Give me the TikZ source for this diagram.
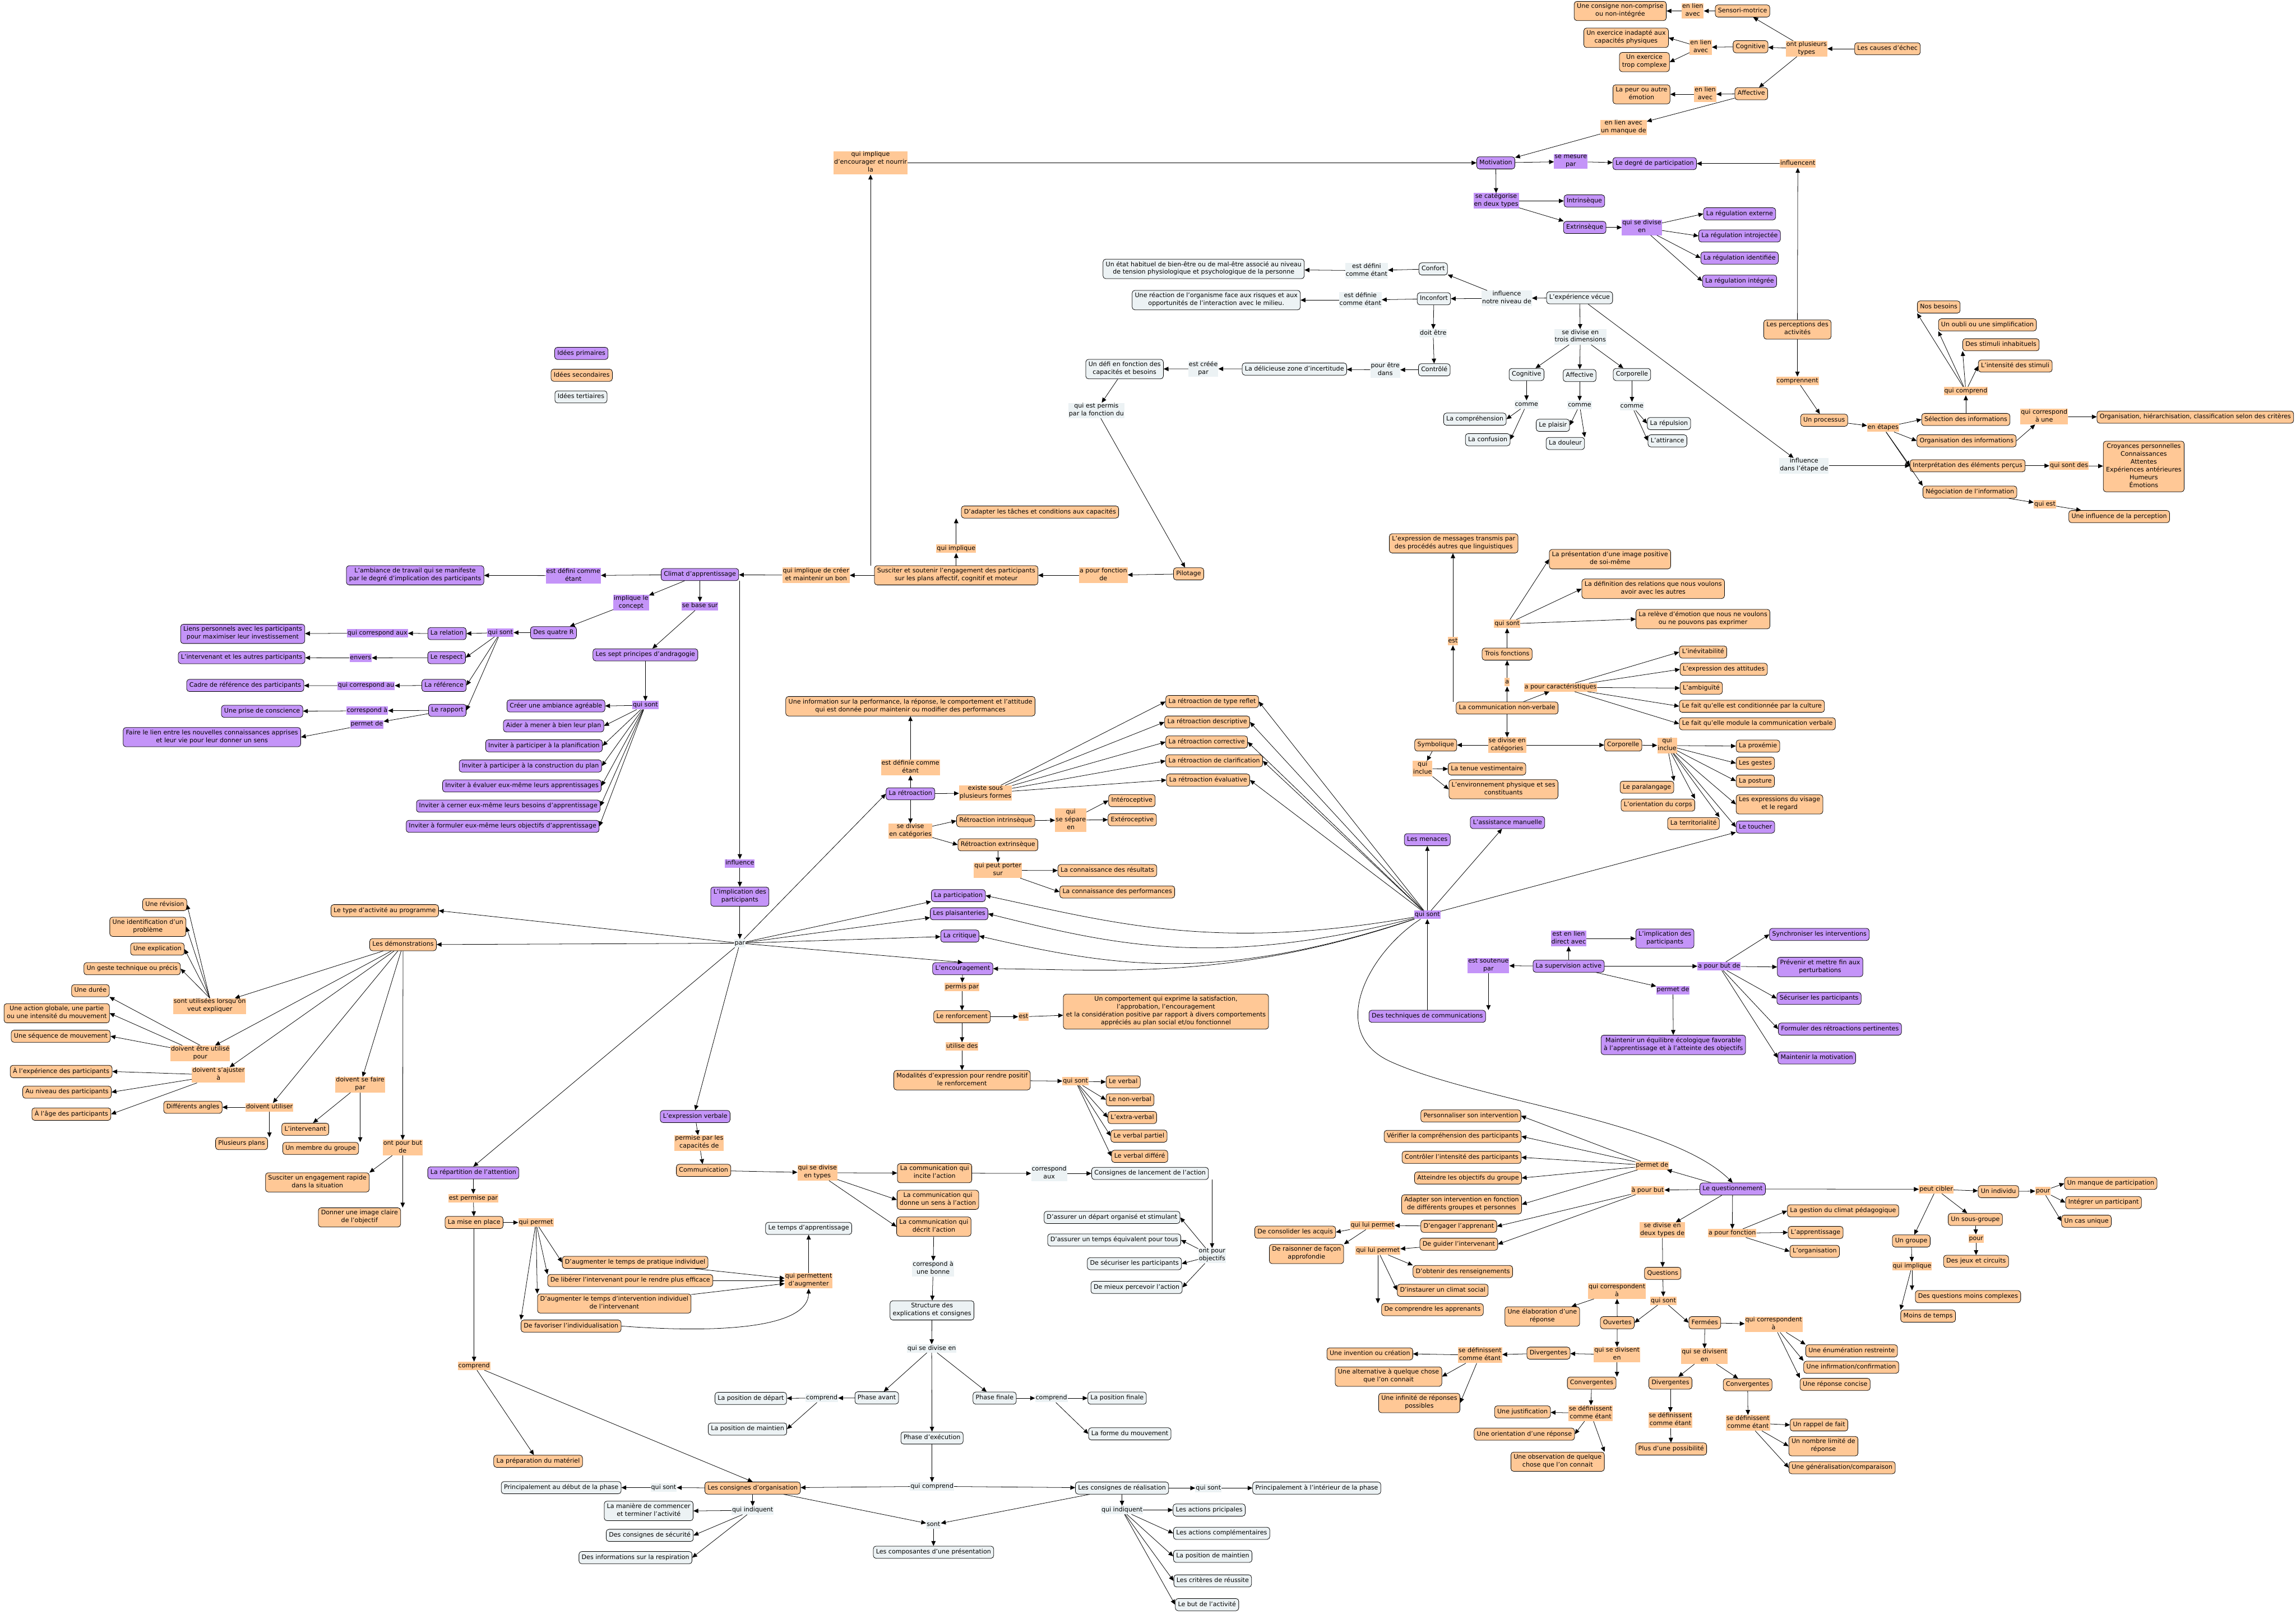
\documentclass[tikz,border=0pt]{standalone}
\usepackage{fontspec}
\setmainfont{DejaVu Sans}
\usetikzlibrary{arrows.meta}
\definecolor{cprim}{RGB}{196,148,248}
\definecolor{csec}{RGB}{255,200,150}
\definecolor{cter}{RGB}{236,242,244}
\newcommand{\mf}{\fontsize{11.5pt}{14.5pt}\selectfont}
\tikzset{
 box/.style={draw=black, line width=0.8pt, rounded corners=5pt, inner xsep=5pt, inner ysep=4pt, align=center, font=\mf, execute at begin node=\strut, execute at end node=\strut},
 prim/.style={box, fill=cprim},
 sec/.style={box, fill=csec},
 ter/.style={box, fill=cter},
 lab/.style={inner xsep=1pt, inner ysep=0.5pt, align=center, font=\mf, execute at begin node=\strut, execute at end node=\strut},
 lprim/.style={lab, fill=cprim},
 lsec/.style={lab, fill=csec},
 lter/.style={lab, fill=cter},
 ar/.style={draw, line width=0.8pt, -{Triangle[length=9pt,width=8pt]}},
}
\begin{document}
\begin{tikzpicture}[x=2.7066pt, y=-2.7069pt]
\useasboundingbox[fill=white] (0,0) rectangle (1568,1102);

% ---------- causes d'echec ----------
\node[sec] (cons) at (1106.5,7.5) {Une consigne non-comprise\\ou non-intégrée};
\node[lsec] (l_cons) at (1156,7.5) {en lien\\avec};
\node[sec] (senso) at (1190,7.5) {Sensori-motrice};
\node[sec] (exinad) at (1110.5,25.8) {Un exercice inadapté aux\\capacités physiques};
\node[lsec] (l_cog) at (1161.5,32.3) {en lien\\avec};
\node[sec] (excomp) at (1123,42.4) {Un exercice\\trop complexe};
\node[sec] (cogc) at (1195.5,31.9) {Cognitive};
\node[lsec] (l_types) at (1233.75,33.3) {ont plusieurs\\types};
\node[sec] (causes) at (1289,33.3) {Les causes d'échec};
\node[sec] (peur) at (1121,64.4) {La peur ou autre\\émotion};
\node[lsec] (l_aff) at (1164.5,64.4) {en lien\\avec};
\node[sec] (affc) at (1196,64) {Affective};
\node[lsec] (l_manque) at (1108.75,87.1) {en lien avec\\un manque de};

% ---------- motivation ----------
\node[prim] (motiv) at (1021.5,111.2) {Motivation};
\node[lprim] (l_mes) at (1072.75,110.3) {se mesure\\par};
\node[prim] (degre) at (1130,111.7) {Le degré de participation};
\node[lsec] (l_infl) at (1227.75,111.7) {influencent};
\node[lprim] (l_cat) at (1021.75,137.2) {se catégorise\\en deux types};
\node[prim] (intr) at (1082,137.2) {Intrinsèque};
\node[prim] (extr) at (1082.25,155.3) {Extrinsèque};
\node[lprim] (l_extr) at (1121.25,155.3) {qui se divise\\en};
\node[prim] (reg1) at (1188,146) {La régulation externe};
\node[prim] (reg2) at (1188,161.1) {La régulation introjectée};
\node[prim] (reg3) at (1188,176.2) {La régulation identifiée};
\node[prim] (reg4) at (1188,192) {La régulation intégrée};
\node[lsec] (l_encour) at (594.5,111.2) {qui implique\\d'encourager et nourrir\\la};

% ---------- experience vecue ----------
\node[ter] (etat) at (822,183.6) {Un état habituel de bien-être ou de mal-être associé au niveau\\de tension physiologique et psychologique de la personne};
\node[lter] (l_conf) at (933.25,184.8) {est défini\\comme étant};
\node[ter] (confort) at (978.75,183.6) {Confort};
\node[ter] (reac) at (830.6,204.9) {Une réaction de l’organisme face aux risques et aux\\opportunités de l’interaction avec le milieu.};
\node[lter] (l_inc) at (929,204.9) {est définie\\comme étant};
\node[ter] (inconf) at (979.25,204) {Inconfort};
\node[lter] (l_niv) at (1029,203.7) {influence\\notre niveau de};
\node[ter] (expv) at (1078.75,203.3) {L'expérience vécue};
\node[lter] (l_doit) at (978.75,227.6) {doit être};
\node[ter] (ctrl) at (979.5,252.5) {Contrôlé};
\node[lter] (l_pour) at (946,252.5) {pour être\\dans};
\node[ter] (zone) at (884,252) {La délicieuse zone d'incertitude};
\node[lter] (l_cree) at (821.75,251.8) {est créée\\par};
\node[ter] (defi) at (768,252) {Un défi en fonction des\\capacités et besoins};
\node[lter] (l_permis) at (748.75,280.3) {qui est permis\\par la fonction du};
\node[lter] (l_3d) at (1079.25,230) {se divise en\\trois dimensions};
\node[ter] (cogt) at (1042.5,255.7) {Cognitive};
\node[ter] (afft) at (1078.75,256.4) {Affective};
\node[ter] (cort) at (1114.5,255.7) {Corporelle};
\node[lter] (l_c1) at (1042.5,276.3) {comme};
\node[lter] (l_c2) at (1078.75,276.6) {comme};
\node[lter] (l_c3) at (1114.5,277.3) {comme};
\node[ter] (compr) at (1007.25,286.2) {La compréhension};
\node[ter] (confu) at (1016,300.2) {La confusion};
\node[ter] (plais) at (1060.5,290.4) {Le plaisir};
\node[ter] (doul) at (1069,302.8) {La douleur};
\node[ter] (repul) at (1139.75,289.2) {La répulsion};
\node[ter] (attir) at (1138.75,301) {L'attirance};

% ---------- perceptions ----------
\node[sec] (perc) at (1227.5,225) {Les perceptions des\\activités};
\node[lsec] (l_compren) at (1227.5,260) {comprennent};
\node[sec] (proc) at (1245.75,286.9) {Un processus};
\node[lsec] (l_etapes) at (1286,292) {en étapes};
\node[sec] (sel) at (1342.5,286.4) {Sélection des informations};
\node[sec] (orga) at (1343,301) {Organisation des informations};
\node[sec] (interp) at (1343.75,318) {Interprétation des éléments perçus};
\node[sec] (nego) at (1345.25,336) {Négociation de l’information};
\node[lsec] (l_qc) at (1342.5,267) {qui comprend};
\node[sec] (besoins) at (1324,209.6) {Nos besoins};
\node[sec] (oubli) at (1357.25,221.8) {Un oubli ou une simplification};
\node[sec] (stim) at (1366.5,235.4) {Des stimuli inhabituels};
\node[sec] (intens) at (1376.25,249.9) {L'intensité des stimuli};
\node[lsec] (l_qcu) at (1396,284.5) {qui correspond\\à une};
\node[sec, anchor=east] (hier) at (1566.5,284.8) {Organisation, hiérarchisation, classification selon des critères};
\node[lsec] (l_qsd) at (1413,318) {qui sont des};
\node[sec] (croy) at (1464,318.5) {Croyances personnelles\\Connaissances\\Attentes\\Expériences antérieures\\Humeurs\\Émotions};
\node[lsec] (l_qe) at (1396.5,344.3) {qui est};
\node[sec] (infper) at (1447.25,352.7) {Une influence de la perception};
\node[lter] (l_etape) at (1232,318) {influence\\dans l'étape de};

% ---------- legend ----------
\node[prim] (leg1) at (397,241.3) {Idées primaires};
\node[sec] (leg2) at (397.25,256.2) {Idées secondaires};
\node[ter] (leg3) at (396.75,271) {Idées tertiaires};

% ---------- climat ----------
\node[prim] (amb) at (283.5,392.8) {L'ambiance de travail qui se manifeste\\par le degré d'implication des participants};
\node[lprim] (l_amb) at (391.5,393) {est défini comme\\étant};
\node[prim] (climat) at (478,392.3) {Climat d'apprentissage};
\node[lsec] (l_creer) at (557.25,392.8) {qui implique de créer\\et maintenir un bon};
\node[sec] (susc) at (653,392.8) {Susciter et soutenir l’engagement des participants\\sur les plans affectif, cognitif et moteur};
\node[lsec] (l_impl) at (653,374.7) {qui implique};
\node[sec] (adapt) at (710.25,349.6) {D'adapter les tâches et conditions aux capacités};
\node[lsec] (l_fonc) at (753.5,392.8) {a pour fonction\\de};
\node[sec] (pilot) at (811.75,391.8) {Pilotage};
\node[lprim] (l_concept) at (431,411.5) {implique le\\concept};
\node[lprim] (l_base) at (478,413.8) {se base sur};
\node[prim] (quatreR) at (378,432) {Des quatre R};
\node[lprim] (l_qs4) at (341.75,431.9) {qui sont};
\node[prim] (relation) at (305.25,432.6) {La relation};
\node[lprim] (l_rel) at (257.75,432.3) {qui correspond aux};
\node[prim] (liens) at (165.75,432.8) {Liens personnels avec les participants\\pour maximiser leur investissement};
\node[prim] (respect) at (305,449) {Le respect};
\node[lprim] (l_env) at (246.25,449.2) {envers};
\node[prim] (interv) at (165,449) {L'intervenant et les autres participants};
\node[prim] (refer) at (303.25,468) {La référence};
\node[lprim] (l_ref) at (250,468.2) {qui correspond au};
\node[prim] (cadre) at (167.5,468) {Cadre de référence des participants};
\node[prim] (rapport) at (305.5,485) {Le rapport};
\node[lprim] (l_corr) at (250.75,485.3) {correspond à};
\node[prim] (prise) at (179,485.7) {Une prise de conscience};
\node[lprim] (l_permet) at (250.5,494.6) {permet de};
\node[prim] (faire) at (144.75,503.3) {Faire le lien entre les nouvelles connaissances apprises\\et leur vie pour leur donner un sens};
\node[prim] (sept) at (440.75,447.1) {Les sept principes d'andragogie};
\node[lprim] (l_qs7) at (440.75,481.5) {qui sont};
\node[prim, anchor=east] (p1) at (413.25,482) {Créer une ambiance agréable};
\node[prim, anchor=east] (p2) at (412.5,495.6) {Aider à mener à bien leur plan};
\node[prim, anchor=east] (p3) at (411.5,509.2) {Inviter à participer à la planification};
\node[prim, anchor=east] (p4) at (411,523) {Inviter à participer à la construction du plan};
\node[prim, anchor=east] (p5) at (410.75,536.6) {Inviter à évaluer eux-même leurs apprentissages};
\node[prim, anchor=east] (p6) at (410,550.4) {Inviter à cerner eux-même leurs besoins d'apprentissage};
\node[prim, anchor=east] (p7) at (409.25,564.2) {Inviter à formuler eux-même leurs objectifs d'apprentissage};
\node[lprim] (l_influ) at (505.25,589.5) {influence};
\node[prim] (impl1) at (505.25,612.2) {L'implication des\\participants};
\node[lter] (par) at (505.25,644) {par};

% ---------- retroaction ----------
\node[sec] (info) at (621.75,482.2) {Une information sur la performance, la réponse, le comportement et l’attitude\\qui est donnée pour maintenir ou modifier des performances};
\node[lsec] (l_def) at (621.75,524) {est définie comme\\étant};
\node[prim] (retro) at (621.75,542) {La rétroaction};
\node[lsec] (l_formes) at (673,541.5) {existe sous\\plusieurs formes};
\node[lsec] (l_catr) at (621.75,567.5) {se divise\\en catégories};
\node[sec] (rintr) at (680,560.4) {Rétroaction intrinsèque};
\node[lsec] (l_sep) at (731.25,560) {qui\\se sépare\\en};
\node[sec] (intero) at (773,546.6) {Intéroceptive};
\node[sec] (extero) at (773.25,559.7) {Extéroceptive};
\node[sec] (rextr) at (681.5,576.8) {Rétroaction extrinsèque};
\node[lsec] (l_porter) at (681.5,594.2) {qui peut porter\\sur};
\node[sec] (cres) at (756.25,594.4) {La connaissance des résultats};
\node[sec] (cperf) at (763,609) {La connaissance des performances};
\node[prim] (partic) at (654.5,611.5) {La participation};
\node[prim] (plaisant) at (655,623.9) {Les plaisanteries};
\node[prim] (critique) at (655.5,639.1) {La critique};
\node[prim] (encour) at (657.5,661.4) {L'encouragement};
\node[lsec] (l_pp) at (657,673.8) {permis par};
\node[sec] (renf) at (657,694.2) {Le renforcement};
\node[lsec] (l_est) at (699,694.2) {est};
\node[sec] (compor) at (796.25,690.7) {Un comportement qui exprime la satisfaction,\\l’approbation, l’encouragement\\et la considération positive par rapport à divers comportements\\appréciés au plan social et/ou fonctionnel};
\node[lsec] (l_util) at (657,714.5) {utilise des};
\node[sec] (modal) at (657,737.5) {Modalités d'expression pour rendre positif\\le renforcement};
\node[lsec] (l_qsm) at (734.5,738.2) {qui sont};
\node[sec, anchor=west] (verb1) at (755.25,738.7) {Le verbal};
\node[sec, anchor=west] (verb2) at (755.25,750.9) {Le non-verbal};
\node[sec, anchor=west] (verb3) at (756.5,763) {L'extra-verbal};
\node[sec, anchor=west] (verb4) at (758.5,775.7) {Le verbal partiel};
\node[sec, anchor=west] (verb5) at (759,789.5) {Le verbal différé};
\node[sec, anchor=west] (rt1) at (796,479) {La rétroaction de type reflet};
\node[sec, anchor=west] (rt2) at (795.25,493) {La rétroaction descriptive};
\node[sec, anchor=west] (rt3) at (796,506.6) {La rétroaction corrective};
\node[sec, anchor=west] (rt4) at (796,519.5) {La rétroaction de clarification};
\node[sec, anchor=west] (rt5) at (796.5,532.6) {La rétroaction évaluative};

% ---------- communication non-verbale ----------
\node[sec] (expr) at (992.75,371) {L’expression de messages transmis par\\des procédés autres que linguistiques};
\node[sec] (image) at (1099.5,381.8) {La présentation d'une image positive\\de soi-même};
\node[sec] (defrel) at (1129,402) {La définition des relations que nous voulons\\avoir avec les autres};
\node[sec] (releve) at (1163,422.7) {La relève d'émotion que nous ne voulons\\ou ne pouvons pas exprimer};
\node[lsec] (l_qs3) at (1029.25,426) {qui sont};
\node[lsec] (l_est2) at (992.25,437.7) {est};
\node[sec] (trois) at (1029.25,446.6) {Trois fonctions};
\node[lsec] (l_a) at (1029.25,465.8) {a};
\node[lsec] (l_carac) at (1065.75,469.3) {a pour caractéristiques};
\node[sec] (cnv) at (1029.25,483.4) {La communication non-verbale};
\node[sec, anchor=west] (car1) at (1146.75,445.2) {L'inévitabilité};
\node[sec, anchor=west] (car2) at (1147.25,457) {L'expression des attitudes};
\node[sec, anchor=west] (car3) at (1147.25,469.8) {L'ambiguïté};
\node[sec, anchor=west] (car4) at (1146.75,482.2) {Le fait qu'elle est conditionnée par la culture};
\node[sec, anchor=west] (car5) at (1146.75,494.2) {Le fait qu'elle module la communication verbale};
\node[lsec] (l_catc) at (1029.25,508.7) {se divise en\\catégories};
\node[sec] (symb) at (980.5,508.7) {Symbolique};
\node[lsec] (l_inc1) at (971.5,524.8) {qui\\inclue};
\node[sec] (tenue) at (1015.5,525) {La tenue vestimentaire};
\node[sec] (envir) at (1026.75,538.9) {L'environnement physique et ses\\constituants};
\node[sec] (corpo) at (1108.5,508.7) {Corporelle};
\node[lsec] (l_inc2) at (1138.5,509) {qui\\inclue};
\node[sec, anchor=west] (prox) at (1185.5,509.4) {La proxémie};
\node[sec, anchor=west] (gestes) at (1185.5,521.1) {Les gestes};
\node[sec, anchor=west] (posture) at (1185.5,533.3) {La posture};
\node[sec, anchor=west] (visage) at (1185.5,549.2) {Les expressions du visage\\et le regard};
\node[prim, anchor=west] (toucher) at (1185.5,564.7) {Le toucher};
\node[sec] (paral) at (1124.75,537.5) {Le paralangage};
\node[sec] (orient) at (1132.25,549.7) {L'orientation du corps};
\node[sec] (territ) at (1156.5,562.3) {La territorialité};
\node[prim] (assist) at (1029.5,561.6) {L'assistance manuelle};
\node[prim] (menaces) at (974.75,573.3) {Les menaces};
\node[lprim] (qs) at (974.75,624.6) {qui sont};
\node[prim] (tech) at (974.75,693.9) {Des techniques de communications};
\node[lprim] (l_sout) at (1016.5,659.3) {est soutenue\\par};
\node[prim] (superv) at (1071.25,659.7) {La supervision active};
\node[lprim] (l_direct) at (1071.25,640.8) {est en lien\\direct avec};
\node[prim] (impl2) at (1137,640.8) {L'implication des\\participants};
\node[lprim] (l_but) at (1174,659.7) {a pour but de};
\node[lprim] (l_perm2) at (1142.5,676) {permet de};
\node[prim] (equil) at (1142.75,713.4) {Maintenir un équilibre écologique favorable\\à l’apprentissage et à l’atteinte des objectifs};
\node[prim] (sync) at (1242.5,638) {Synchroniser les interventions};
\node[prim] (prev) at (1243,660.2) {Prévenir et mettre fin aux\\perturbations};
\node[prim] (secu) at (1242.25,681.7) {Sécuriser les participants};
\node[prim] (formu) at (1256.5,702.6) {Formuler des rétroactions pertinentes};
\node[prim] (maint) at (1240.75,722.3) {Maintenir la motivation};

% ---------- demonstrations ----------
\node[sec] (revis) at (112.5,617.6) {Une révision};
\node[sec] (ident) at (101,632.8) {Une identification d'un\\problème};
\node[sec] (expl) at (107.5,648) {Une explication};
\node[sec] (geste) at (90.25,661.4) {Un geste technique ou précis};
\node[sec] (duree) at (61.75,676.4) {Une durée};
\node[sec] (action) at (38.75,691.8) {Une action globale, une partie\\ou une intensité du mouvement};
\node[sec] (seq) at (41.5,707.5) {Une séquence de mouvement};
\node[sec] (exper) at (41.75,731.6) {À l'expérience des participants};
\node[lsec] (l_expliq) at (143.25,686.9) {sont utilisées lorsqu'on\\veut expliquer};
\node[lsec] (l_utilpour) at (136.75,719.2) {doivent être utilisé\\pour};
\node[lsec] (l_ajust) at (149.25,734) {doivent s'ajuster\\à};
\node[sec] (niveau) at (45.75,745.7) {Au niveau des participants};
\node[sec] (age) at (48.75,760.7) {À l'âge des participants};
\node[sec] (angles) at (131.75,756) {Différents angles};
\node[lsec] (l_dutil) at (184,756) {doivent utiliser};
\node[sec] (plans) at (165,780.8) {Plusieurs plans};
\node[lsec] (l_faire) at (246,740.6) {doivent se faire\\par};
\node[sec] (lint) at (208.5,771) {L’intervenant};
\node[sec] (membre) at (219,784.1) {Un membre du groupe};
\node[lsec] (l_butd) at (275,783.6) {ont pour but\\de};
\node[sec] (engag) at (216.75,807.3) {Susciter un engagement rapide\\dans la situation};
\node[sec] (donner) at (245.5,831.2) {Donner une image claire\\de l'objectif};
\node[sec] (typeact) at (262.75,621.8) {Le type d'activité au programme};
\node[sec] (demo) at (275.25,645) {Les démonstrations};

% ---------- repartition ----------
\node[prim] (repart) at (323.25,800.8) {La répartition de l'attention};
\node[lsec] (l_permise) at (323.25,818.1) {est permise par};
\node[sec] (mise) at (323.75,834.7) {La mise en place};
\node[lsec] (l_qp) at (366,834.7) {qui permet};
\node[lsec] (l_compr) at (323.75,932.6) {comprend};
\node[sec] (prep) at (367.5,997.7) {La préparation du matériel};
\node[ter] (debut) at (383.25,1015.7) {Principalement au début de la phase};
\node[sec] (aug1) at (433.75,861.9) {D'augmenter le temps de pratique individuel};
\node[sec] (liber) at (430.4,874.3) {De libérer l’intervenant pour le rendre plus efficace};
\node[sec] (aug2) at (419.5,890) {D'augmenter le temps d’intervention individuel\\de l’intervenant};
\node[sec] (favor) at (390,905.4) {De favoriser l'individualisation};
\node[ter] (tempsapp) at (552.25,838.7) {Le temps d'apprentissage};
\node[lsec] (l_qpa) at (552.25,874.5) {qui permettent\\d'augmenter};

% ---------- communication ----------
\node[prim] (exprv) at (474.75,762.3) {L'expression verbale};
\node[lsec] (l_capac) at (477.5,780.4) {permise par les\\capacités de};
\node[sec] (comm) at (480.5,799.1) {Communication};
\node[lsec] (l_types2) at (558.25,800.7) {qui se divise\\en types};
\node[sec] (incite) at (638.25,801) {La communication qui\\incite l'action};
\node[sec] (sens) at (640.5,819.2) {La communication qui\\donne un sens à l'action};
\node[sec] (decrit) at (637.75,837.5) {La communication qui\\décrit l'action};
\node[lter] (l_aux) at (716.5,801.2) {correspond\\aux};
\node[ter] (lanc) at (785.4,801.2) {Consignes de lancement de l'action};
\node[lter] (l_obj) at (827.75,857.4) {ont pour\\objectifs};
\node[ter, anchor=east] (obj1) at (806,831.2) {D'assurer un départ organisé et stimulant};
\node[ter, anchor=east] (obj2) at (806.5,846.6) {D'assurer un temps équivalent pour tous};
\node[ter, anchor=east] (obj3) at (807,862.8) {De sécuriser les participants};
\node[ter, anchor=east] (obj4) at (807.5,879) {De mieux percevoir l'action};
\node[lter] (l_bonne) at (637.25,866.3) {correspond à\\une bonne};
\node[ter] (struct) at (636.5,894.7) {Structure des\\explications et consignes};
\node[lter] (l_qsde) at (636.25,920.7) {qui se divise en};
\node[ter] (pavant) at (598.75,954.4) {Phase avant};
\node[lter] (l_comp1) at (561.25,954.6) {comprend};
\node[ter] (pdep) at (512.75,954.8) {La position de départ};
\node[ter] (pmain1) at (510.5,975.7) {La position de maintien};
\node[ter] (pfin) at (679.25,954.6) {Phase finale};
\node[lter] (l_comp2) at (718,954.6) {comprend};
\node[ter, anchor=west] (posfin) at (742.75,954.6) {La position finale};
\node[ter, anchor=west] (forme) at (743.25,979) {La forme du mouvement};
\node[ter] (pexec) at (636.5,981.8) {Phase d'exécution};
\node[lter] (l_qcomp) at (636.5,1014.8) {qui comprend};
\node[sec] (corg) at (514,1016) {Les consignes d'organisation};
\node[lter] (l_qsorg) at (453.25,1015.7) {qui sont};
\node[lter] (l_qi1) at (514,1031.2) {qui indiquent};
\node[ter] (maniere) at (443,1031.6) {La manière de commencer\\et terminer l'activité};
\node[ter] (securite) at (443.75,1048.3) {Des consignes de sécurité};
\node[ter] (respir) at (434,1063.5) {Des informations sur la respiration};
\node[lter] (l_sont) at (637.5,1041) {sont};
\node[ter] (compos) at (637.5,1059.8) {Les composantes d'une présentation};
\node[ter] (creal) at (766.25,1016) {Les consignes de réalisation};
\node[lter] (l_qi2) at (766.25,1031) {qui indiquent};
\node[lter] (l_qsr) at (825.25,1016) {qui sont};
\node[ter] (interieur) at (899.25,1016) {Principalement à l'intérieur de la phase};
\node[ter, anchor=west] (act1) at (801,1031) {Les actions pricipales};
\node[ter, anchor=west] (act2) at (801.25,1046.9) {Les actions complémentaires};
\node[ter, anchor=west] (act3) at (801.25,1062.6) {La position de maintien};
\node[ter, anchor=west] (act4) at (801.5,1079.4) {Les critères de réussite};
\node[ter, anchor=west] (act5) at (802.5,1095.6) {Le but de l'activité};

% ---------- questionnement ----------
\node[sec, anchor=east] (pers) at (1038.75,761.9) {Personnaliser son intervention};
\node[sec, anchor=east] (verif) at (1039,775.9) {Vérifier la compréhension des participants};
\node[sec, anchor=east] (ctrli) at (1039,790.2) {Contrôler l'intensité des participants};
\node[sec, anchor=east] (atteind) at (1039.25,804.3) {Atteindre les objectifs du groupe};
\node[sec, anchor=east] (adapti) at (1039.25,822.3) {Adapter son intervention en fonction\\de différents groupes et personnes};
\node[sec] (engap) at (996.25,837.3) {D'engager l'apprenant};
\node[sec] (guide) at (996.25,849.5) {De guider l'intervenant};
\node[lsec] (l_perm3) at (1128.25,795.8) {permet de};
\node[lsec] (l_abut) at (1125.25,812.7) {à pour but};
\node[prim] (quest) at (1183.25,811.8) {Le questionnement};
\node[lsec] (l_qlp1) at (937.25,836.6) {qui lui permet};
\node[sec] (consol) at (884.5,841.3) {De consolider les acquis};
\node[sec] (raison) at (892.25,856.2) {De raisonner de façon\\approfondie};
\node[lsec] (l_qlp2) at (941,853.9) {qui lui permet};
\node[sec] (obten) at (999,868.2) {D'obtenir des renseignements};
\node[sec] (instau) at (985.25,881) {D'instaurer un climat social};
\node[sec] (comprapp) at (978.25,894.2) {De comprendre les apprenants};
\node[lsec] (l_2types) at (1135.25,839.9) {se divise en\\deux types de};
\node[lsec] (l_afonc) at (1183,842) {a pour fonction};
\node[sec] (questions) at (1135.5,869.4) {Questions};
\node[lsec] (l_qsq) at (1136,888.1) {qui sont};
\node[lsec] (l_qca1) at (1104.25,881.5) {qui correspondent\\à};
\node[sec] (elab) at (1053.25,898.9) {Une élaboration d'une\\réponse};
\node[sec] (ouv) at (1104.5,903.1) {Ouvertes};
\node[sec] (ferm) at (1164.25,903.1) {Fermées};
\node[lsec] (l_qsde1) at (1104.25,924.9) {qui se divisent\\en};
\node[sec] (div1) at (1057.5,923.9) {Divergentes};
\node[lsec] (l_sdce1) at (1010.75,925.3) {se définissent\\comme étant};
\node[sec] (invent) at (935.5,924.4) {Une invention ou création};
\node[sec] (altern) at (948.25,939.9) {Une alternative à quelque chose\\que l'on connait};
\node[sec] (infini) at (969.25,957.9) {Une infinité de réponses\\possibles};
\node[sec] (conv1) at (1087,944.3) {Convergentes};
\node[lsec] (l_sdce2) at (1086.25,964.9) {se définissent\\comme étant};
\node[sec] (justif) at (1039.75,964) {Une justification};
\node[sec] (orientr) at (1041,979.2) {Une orientation d'une réponse};
\node[sec] (observ) at (1063.75,998) {Une observation de quelque\\chose que l'on connait};
\node[lsec] (l_qsde2) at (1164,926) {qui se divisent\\en};
\node[sec] (div2) at (1140.75,944.3) {Divergentes};
\node[lsec] (l_sdce3) at (1140.75,969.6) {se définissent\\comme étant};
\node[sec] (plusposs) at (1141.25,989.3) {Plus d'une possibilité};
\node[sec] (conv2) at (1193.5,945.5) {Convergentes};
\node[lsec] (l_qca2) at (1211.25,904.3) {qui correspondent\\à};
\node[sec] (enum) at (1264.5,922.3) {Une énumération restreinte};
\node[sec] (infirm) at (1264.25,933.5) {Une infirmation/confirmation};
\node[sec] (concise) at (1253.25,945.2) {Une réponse concise};
\node[lsec] (l_sdce4) at (1193.75,971.5) {se définissent\\comme étant};
\node[sec] (rappel) at (1242.25,972.9) {Un rappel de fait};
\node[sec] (nombre) at (1245.25,987.4) {Un nombre limité de\\réponse};
\node[sec] (general) at (1258,1002.1) {Une généralisation/comparaison};
\node[sec, anchor=west] (gestion) at (1220.5,826.7) {La gestion du climat pédagogique};
\node[sec, anchor=west] (apprent) at (1221,841.5) {L'apprentissage};
\node[sec, anchor=west] (organis) at (1222.25,854.4) {L'organisation};
\node[lsec] (l_cibler) at (1322.25,812) {peut cibler};
\node[sec] (indiv) at (1364.75,813.6) {Un individu};
\node[lsec] (l_pour1) at (1395.25,813.2) {pour};
\node[sec, anchor=west] (manque) at (1409.75,808) {Un manque de participation};
\node[sec, anchor=west] (integ) at (1410.5,821.1) {Intégrer un participant};
\node[sec, anchor=west] (casu) at (1407.75,833.8) {Un cas unique};
\node[sec] (sousg) at (1349,832.6) {Un sous-groupe};
\node[lsec] (l_pour2) at (1349.5,845.7) {pour};
\node[sec] (jeux) at (1349.5,861.2) {Des jeux et circuits};
\node[sec] (groupe) at (1305.25,847.3) {Un groupe};
\node[lsec] (l_qig) at (1305.75,864.4) {qui implique};
\node[sec] (moinsc) at (1344,885.3) {Des questions moins complexes};
\node[sec] (moinst) at (1316.75,898.6) {Moins de temps};

% =============== CONNECTORS ===============
% causes
\draw[ar] (causes) -- (l_types);
\foreach \t in {senso,cogc,affc} \draw[ar] (l_types) -- (\t);
\draw[ar] (senso) -- (l_cons); \draw[ar] (l_cons) -- (cons);
\draw[ar] (cogc) -- (l_cog); \draw[ar] (l_cog) -- (exinad.east); \draw[ar] (l_cog) -- (excomp.east);
\draw[ar] (affc) -- (l_aff); \draw[ar] (l_aff) -- (peur);
\draw[ar] (affc) -- (l_manque); \draw[ar] (l_manque) -- (motiv);
% motivation
\draw[ar] (motiv) -- (l_mes); \draw[ar] (l_mes) -- (degre);
\draw[ar] (perc) -- (l_infl); \draw[ar] (l_infl) -- (degre);
\draw[ar] (motiv) -- (l_cat); \draw[ar] (l_cat) -- (intr); \draw[ar] (l_cat) -- (extr);
\draw[ar] (extr) -- (l_extr);
\foreach \t in {reg1,reg2,reg3,reg4} \draw[ar] (l_extr) -- (\t.west);
\draw[ar] (l_encour) -- (motiv);
\draw[ar] (l_encour |- susc.north) -- (l_encour);
% experience
\draw[ar] (expv) -- (l_niv); \draw[ar] (l_niv) -- (confort); \draw[ar] (l_niv) -- (inconf);
\draw[ar] (confort) -- (l_conf); \draw[ar] (l_conf) -- (etat);
\draw[ar] (inconf) -- (l_inc); \draw[ar] (l_inc) -- (reac);
\draw[ar] (inconf) -- (l_doit); \draw[ar] (l_doit) -- (ctrl);
\draw[ar] (ctrl) -- (l_pour); \draw[ar] (l_pour) -- (zone);
\draw[ar] (zone) -- (l_cree); \draw[ar] (l_cree) -- (defi);
\draw[ar] (defi) -- (l_permis); \draw[ar] (l_permis) -- (pilot);
\draw[ar] (expv) -- (l_3d);
\foreach \t in {cogt,afft,cort} \draw[ar] (l_3d) -- (\t);
\draw[ar] (cogt) -- (l_c1); \draw[ar] (l_c1) -- (compr.east); \draw[ar] (l_c1) -- (confu.east);
\draw[ar] (afft) -- (l_c2); \draw[ar] (l_c2) -- (plais.east); \draw[ar] (l_c2) -- (doul.north east);
\draw[ar] (cort) -- (l_c3); \draw[ar] (l_c3) -- (repul.west); \draw[ar] (l_c3) -- (attir.west);
\draw[ar] (expv) -- (l_etape); \draw[ar] (l_etape) -- (interp);
% perceptions
\draw[ar] (perc) -- (l_compren); \draw[ar] (l_compren) -- (proc);
\draw[ar] (proc) -- (l_etapes);
\draw[ar] (l_etapes) -- (sel.west); \draw[ar] (l_etapes) -- (orga.west);
\draw[ar] (l_etapes) -- (interp.west); \draw[ar] (l_etapes) -- (nego.north west);
\draw[ar] (sel) -- (l_qc);
\draw[ar] (l_qc) -- (besoins.south west); \draw[ar] (l_qc) -- (oubli.south west);
\draw[ar] (l_qc) -- (stim.south west); \draw[ar] (l_qc) -- (intens.west);
\draw[ar] (orga.east) -- (l_qcu); \draw[ar] (l_qcu) -- (hier);
\draw[ar] (interp) -- (l_qsd); \draw[ar] (l_qsd) -- (croy);
\draw[ar] (nego) -- (l_qe); \draw[ar] (l_qe) -- (infper);
% climat
\draw[ar] (pilot) -- (l_fonc); \draw[ar] (l_fonc) -- (susc);
\draw[ar] (susc) -- (l_creer); \draw[ar] (l_creer) -- (climat);
\draw[ar] (susc) -- (l_impl); \draw[ar] (l_impl) -- (l_impl |- adapt.south);
\draw[ar] (climat) -- (l_amb); \draw[ar] (l_amb) -- (amb);
\draw[ar] (climat) -- (l_concept); \draw[ar] (l_concept) -- (quatreR);
\draw[ar] (climat) -- (l_base); \draw[ar] (l_base) -- (sept);
\draw[ar] (l_influ |- climat.south) -- (l_influ); \draw[ar] (l_influ) -- (impl1); \draw[ar] (impl1) -- (par);
\draw[ar] (quatreR) -- (l_qs4);
\foreach \t in {relation,respect,refer,rapport} \draw[ar] (l_qs4) -- (\t.east);
\draw[ar] (relation) -- (l_rel); \draw[ar] (l_rel) -- (liens);
\draw[ar] (respect) -- (l_env); \draw[ar] (l_env) -- (interv);
\draw[ar] (refer) -- (l_ref); \draw[ar] (l_ref) -- (cadre);
\draw[ar] (rapport) -- (l_corr); \draw[ar] (l_corr) -- (prise);
\draw[ar] (rapport) -- (l_permet); \draw[ar] (l_permet) -- (faire.east);
\draw[ar] (sept) -- (l_qs7);
\foreach \t in {p1,p2,p3,p4,p5,p6,p7} \draw[ar] (l_qs7) -- (\t.east);
% par
\draw[ar] (par) -- (retro.west);
\draw[ar] (par) -- (partic);
\draw[ar] (par) -- (plaisant);
\draw[ar] (par) -- (critique);
\draw[ar] (par) -- (encour.north);
\draw[ar] (par) -- (typeact.east);
\draw[ar] (par) -- (demo);
\draw[ar] (par) -- (repart.north);
\draw[ar] (par) -- (exprv.north);
% retroaction
\draw[ar] (retro) -- (l_def); \draw[ar] (l_def) -- (info);
\draw[ar] (retro) -- (l_formes);
\foreach \t in {rt1,rt2,rt3,rt4,rt5} \draw[ar] (l_formes) -- (\t.west);
\draw[ar] (retro) -- (l_catr); \draw[ar] (l_catr) -- (rintr.west); \draw[ar] (l_catr) -- (rextr.west);
\draw[ar] (rintr) -- (l_sep); \draw[ar] (l_sep) -- (intero.west); \draw[ar] (l_sep) -- (extero.west);
\draw[ar] (rextr) -- (l_porter); \draw[ar] (l_porter) -- (cres.west); \draw[ar] (l_porter) -- (cperf.west);
\draw[ar] (encour) -- (l_pp); \draw[ar] (l_pp) -- (renf);
\draw[ar] (renf) -- (l_est); \draw[ar] (l_est) -- (compor);
\draw[ar] (renf) -- (l_util); \draw[ar] (l_util) -- (modal);
\draw[ar] (modal) -- (l_qsm);
\foreach \t in {verb1,verb2,verb3,verb4,verb5} \draw[ar] (l_qsm) -- (\t.west);
% techniques
\draw[ar] (tech) -- (qs);
\foreach \t in {rt1,rt2,rt3,rt4,rt5} \draw[ar] (qs) -- (\t.east);
\draw[ar] (qs) -- (menaces);
\draw[ar] (qs) -- (assist);
\draw[ar] (qs) -- (toucher);
\draw[ar] (qs) .. controls (830,650) and (760,630) .. (partic.east);
\draw[ar] (qs) .. controls (830,662) and (760,645) .. (plaisant.east);
\draw[ar] (qs) .. controls (830,672) and (760,660) .. (critique.east);
\draw[ar] (qs) .. controls (840,670) and (760,662) .. (encour.east);
\draw[ar] (qs) .. controls (935,650) and (905,705) .. (950,725) .. controls (1010,752) and (1140,765) .. (quest.north);
\draw[ar] (superv) -- (l_sout); \draw[ar] (l_sout.south) -- (l_sout.south |- tech.north);
\draw[ar] (superv) -- (l_direct); \draw[ar] (l_direct) -- (impl2);
\draw[ar] (superv) -- (l_but);
\foreach \t in {sync,prev,secu,formu,maint} \draw[ar] (l_but) -- (\t.west);
\draw[ar] (superv) -- (l_perm2); \draw[ar] (l_perm2) -- (equil);
% communication non-verbale
\draw[ar] (l_est2 |- cnv.north) -- (l_est2); \draw[ar] (l_est2) -- (l_est2 |- expr.south);
\draw[ar] (cnv) -- (l_a); \draw[ar] (l_a) -- (trois);
\draw[ar] (trois) -- (l_qs3);
\foreach \t in {image,defrel,releve} \draw[ar] (l_qs3) -- (\t.west);
\draw[ar] (cnv) -- (l_carac);
\foreach \t in {car1,car2,car3,car4,car5} \draw[ar] (l_carac) -- (\t.west);
\draw[ar] (cnv) -- (l_catc); \draw[ar] (l_catc) -- (symb); \draw[ar] (l_catc) -- (corpo);
\draw[ar] (symb) -- (l_inc1); \draw[ar] (l_inc1) -- (tenue.west); \draw[ar] (l_inc1) -- (envir.west);
\draw[ar] (corpo) -- (l_inc2);
\foreach \t in {prox,gestes,posture,visage,toucher} \draw[ar] (l_inc2) -- (\t.west);
\foreach \t in {paral,orient,territ} \draw[ar] (l_inc2) -- (\t.north east);
% demonstrations
\draw[ar] (demo) -- (l_expliq);
\foreach \t in {revis,ident,expl,geste} \draw[ar] (l_expliq.north) -- (\t.east);
\draw[ar] (demo) -- (l_utilpour);
\draw[ar] (l_utilpour.north) -- (duree.south east);
\draw[ar] (l_utilpour) -- (action.east); \draw[ar] (l_utilpour) -- (seq.east);
\draw[ar] (demo) -- (l_ajust);
\foreach \t in {exper,niveau,age} \draw[ar] (l_ajust) -- (\t.east);
\draw[ar] (demo) -- (l_dutil); \draw[ar] (l_dutil) -- (angles);
\draw[ar] (l_dutil.south) -- (l_dutil.south |- plans.north);
\draw[ar] (demo) -- (l_faire); \draw[ar] (l_faire) -- (lint);
\draw[ar] (l_faire.south) -- (l_faire.south |- membre.north);
\draw[ar] (demo) -- (l_butd); \draw[ar] (l_butd) -- (engag.north east);
\draw[ar] (l_butd.south) -- (l_butd.south |- donner.north);
% repartition
\draw[ar] (repart) -- (l_permise); \draw[ar] (l_permise) -- (mise);
\draw[ar] (mise) -- (l_qp);
\draw[ar] (l_qp) -- (aug1.west);
\foreach \t in {liber,aug2,favor} \draw[ar] (l_qp) -- (\t.north west);
\draw[ar] (aug1) -- (l_qpa); \draw[ar] (liber) -- (l_qpa); \draw[ar] (aug2) -- (l_qpa);
\draw[ar] (favor.east) .. controls (500,911) and (552,905) .. (l_qpa.south);
\draw[ar] (l_qpa) -- (tempsapp);
\draw[ar] (mise) -- (l_compr); \draw[ar] (l_compr) -- (prep); \draw[ar] (l_compr) -- (corg.north);
% communication
\draw[ar] (exprv) -- (l_capac); \draw[ar] (l_capac) -- (comm);
\draw[ar] (comm) -- (l_types2);
\draw[ar] (l_types2) -- (incite); \draw[ar] (l_types2) -- (sens.west); \draw[ar] (l_types2) -- (decrit.west);
\draw[ar] (incite) -- (l_aux); \draw[ar] (l_aux) -- (lanc);
\draw[ar] (l_obj |- lanc.south) -- (l_obj);
\foreach \t in {obj1,obj2,obj3,obj4} \draw[ar] (l_obj) -- (\t.east);
\draw[ar] (decrit) -- (l_bonne); \draw[ar] (l_bonne) -- (struct);
\draw[ar] (struct) -- (l_qsde);
\draw[ar] (l_qsde) -- (pavant); \draw[ar] (l_qsde) -- (pexec); \draw[ar] (l_qsde) -- (pfin);
\draw[ar] (pavant) -- (l_comp1); \draw[ar] (l_comp1) -- (pdep); \draw[ar] (l_comp1) -- (pmain1.east);
\draw[ar] (pfin) -- (l_comp2); \draw[ar] (l_comp2) -- (posfin); \draw[ar] (l_comp2) -- (forme.west);
\draw[ar] (pexec) -- (l_qcomp); \draw[ar] (l_qcomp) -- (corg); \draw[ar] (l_qcomp) -- (creal);
\draw[ar] (corg) -- (l_qsorg); \draw[ar] (l_qsorg) -- (debut);
\draw[ar] (corg) -- (l_qi1);
\foreach \t in {maniere,securite,respir} \draw[ar] (l_qi1) -- (\t.east);
\draw[ar] (corg) -- (l_sont); \draw[ar] (creal) -- (l_sont); \draw[ar] (l_sont) -- (compos);
\draw[ar] (creal) -- (l_qsr); \draw[ar] (l_qsr) -- (interieur);
\draw[ar] (creal) -- (l_qi2);
\foreach \t in {act1,act2,act3,act4,act5} \draw[ar] (l_qi2) -- (\t.west);
% questionnement
\draw[ar] (quest) -- (l_perm3);
\foreach \t in {pers,verif,ctrli,atteind,adapti} \draw[ar] (l_perm3) -- (\t.east);
\draw[ar] (quest) -- (l_abut);
\draw[ar] (l_abut) -- (engap.east); \draw[ar] (l_abut) -- (guide.east);
\draw[ar] (engap) -- (l_qlp1); \draw[ar] (l_qlp1) -- (consol.east); \draw[ar] (l_qlp1) -- (raison.north east);
\draw[ar] (guide) -- (l_qlp2); \draw[ar] (l_qlp2) -- (obten.north west); \draw[ar] (l_qlp2) -- (instau.west);
\draw[ar] (l_qlp2.south) -- (l_qlp2.south |- comprapp.north);
\draw[ar] (quest) -- (l_2types); \draw[ar] (l_2types) -- (questions);
\draw[ar] (quest) -- (l_afonc);
\foreach \t in {gestion,apprent,organis} \draw[ar] (l_afonc) -- (\t.west);
\draw[ar] (quest) -- (l_cibler);
\draw[ar] (l_cibler) -- (indiv); \draw[ar] (l_cibler) -- (sousg); \draw[ar] (l_cibler) -- (groupe);
\draw[ar] (indiv) -- (l_pour1);
\foreach \t in {manque,integ,casu} \draw[ar] (l_pour1) -- (\t.west);
\draw[ar] (sousg) -- (l_pour2); \draw[ar] (l_pour2) -- (jeux);
\draw[ar] (groupe) -- (l_qig);
\draw[ar] (l_qig.south) -- (l_qig.south |- moinsc.north); \draw[ar] (l_qig) -- (moinst.north west);
\draw[ar] (questions) -- (l_qsq); \draw[ar] (l_qsq) -- (ouv.east); \draw[ar] (l_qsq) -- (ferm.west);
\draw[ar] (ouv) -- (l_qca1); \draw[ar] (l_qca1) -- (elab);
\draw[ar] (ouv) -- (l_qsde1); \draw[ar] (l_qsde1) -- (div1);
\draw[ar] (l_qsde1.south) -- (l_qsde1.south |- conv1.north);
\draw[ar] (div1) -- (l_sdce1);
\foreach \t in {invent,altern,infini} \draw[ar] (l_sdce1) -- (\t.east);
\draw[ar] (conv1) -- (l_sdce2);
\draw[ar] (l_sdce2) -- (justif); \draw[ar] (l_sdce2) -- (orientr.east); \draw[ar] (l_sdce2) -- (observ.north east);
\draw[ar] (ferm) -- (l_qca2);
\foreach \t in {enum,infirm,concise} \draw[ar] (l_qca2) -- (\t.north west);
\draw[ar] (ferm) -- (l_qsde2); \draw[ar] (l_qsde2) -- (div2); \draw[ar] (l_qsde2) -- (conv2);
\draw[ar] (div2) -- (l_sdce3); \draw[ar] (l_sdce3) -- (plusposs);
\draw[ar] (conv2) -- (l_sdce4);
\foreach \t in {rappel,nombre,general} \draw[ar] (l_sdce4) -- (\t.west);
\end{tikzpicture}
\end{document}
